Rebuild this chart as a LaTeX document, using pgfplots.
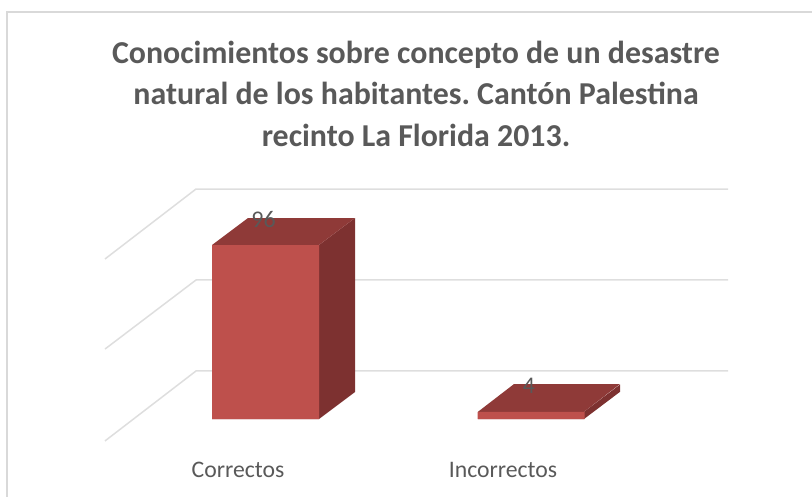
\documentclass[border=0pt]{standalone}
\usepackage{pgfplots}
\pgfplotsset{compat=1.18}
\usepackage{fontspec}
\setmainfont{Carlito}
\frenchspacing
\definecolor{front}{HTML}{BE504C}
\definecolor{topf}{HTML}{8F3A38}
\definecolor{sidef}{HTML}{7D3130}
\definecolor{gridc}{HTML}{DEDEDE}
\definecolor{framec}{HTML}{D9D9D9}
\definecolor{txt}{HTML}{595959}
\begin{document}
\begin{tikzpicture}[x=1bp,y=1bp]
\path[use as bounding box] (0,0) rectangle (812,497);
\begin{axis}[
  at={(0,0)},anchor=south west,
  scale only axis,width=812bp,height=497bp,
  xmin=0,xmax=812,ymin=-43.03,ymax=231.2,
  axis lines=none,ticks=none,clip=false,
  enlargelimits=false,
  /pgf/number format/assume math mode=true,
]
% frame
\addplot[framec,line width=1.6bp] coordinates {(7,-43.03) (7,224.6) (812,224.6)};
% gridlines: back wall and floor/side diagonals (y in the value scale of the bars' front plane)
\addplot[gridc,line width=1.5bp] coordinates {(105,-12.1) (196,26.5) (728,26.5)};
\addplot[gridc,line width=1.5bp] coordinates {(105,38.6) (196,76.7) (728,76.7)};
\addplot[gridc,line width=1.5bp] coordinates {(105,88.3) (196,126.9) (728,126.9)};
% bar 1 side, top
\addplot[draw=none,fill=sidef] coordinates {(319,0) (355,14.9) (355,110.9) (319,96)} \closedcycle;
\addplot[draw=none,fill=topf] coordinates {(212,96) (248,110.9) (355,110.9) (319,96)} \closedcycle;
% bar 2 side, top
\addplot[draw=none,fill=sidef] coordinates {(584,0) (620,15) (620,19) (584,4)} \closedcycle;
\addplot[draw=none,fill=topf] coordinates {(478,4) (514,19.3) (620,19.3) (584,4)} \closedcycle;
% front faces with values
\addplot[ybar,bar width=107bp,draw=none,fill=front,
  nodes near coords,
  nodes near coords align={anchor=center},
  every node near coord/.append style={text=txt,font=\fontsize{24}{28}\selectfont,xshift=-2bp,yshift=26bp},
] coordinates {(265.5,96) (531,4)};
% labels
\node[text=txt,font=\fontsize{23.8}{28}\selectfont,anchor=center] at (axis cs:238,-28) {Correctos};
\node[text=txt,font=\fontsize{23.8}{28}\selectfont,anchor=center] at (axis cs:503,-28) {Incorrectos};
\node[text=txt,font=\bfseries\fontsize{32}{41.5}\selectfont,align=center,anchor=center] at (axis cs:416,179.4) {Conocimientos sobre concepto de un desastre\\natural de los habitantes. Cantón Palestina\\recinto La Florida 2013.};
\end{axis}
\end{tikzpicture}
\end{document}
